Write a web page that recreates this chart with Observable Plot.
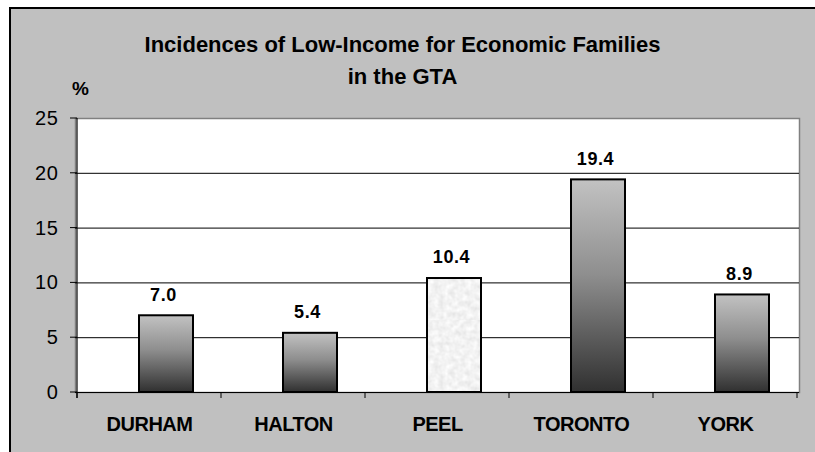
<!DOCTYPE html>
<html>
<head>
<meta charset="utf-8">
<script src="https://cdn.jsdelivr.net/npm/d3@7"></script>
<script src="https://cdn.jsdelivr.net/npm/@observablehq/plot@0.6"></script>
<style>
  html, body { margin: 0; padding: 0; background: #fff; }
  #wrap { position: relative; width: 815px; height: 452px; overflow: hidden; font-family: "Liberation Sans", Arial, sans-serif; }
  #frame { position: absolute; left: 9px; top: 7px; right: -4px; bottom: -4px; background: #c0c0c0; border-left: 2px solid #000; border-top: 2px solid #000; }
  #title { position: absolute; left: 0; width: 805px; top: 29px; text-align: center; font-weight: bold; font-size: 22px; line-height: 32px; color: #000; }
  #unit { position: absolute; left: 72px; top: 78px; font-weight: bold; font-size: 19px; color: #000; }
  #chart { position: absolute; left: 0; top: 0; }
  #chart svg [aria-label^="x-axis"] text { font-size: 20px; font-weight: bold; letter-spacing: -0.5px; }
</style>
</head>
<body>
<div id="wrap">
  <div id="frame"></div>
  <div id="chart"></div>
  <div id="title">Incidences of Low-Income for Economic Families<br>in the GTA</div>
  <div id="unit">%</div>
</div>
<script>
const categories = ["DURHAM", "HALTON", "PEEL", "TORONTO", "YORK"];
const values = [7.0, 5.4, 10.4, 19.4, 8.9];
const yDomain = [0, 25];
const yTicks = [0, 5, 10, 15, 20, 25];
const gridValues = [5, 10, 15, 20];
const texturedCategory = "PEEL";

const data = categories.map((c, i) => ({region: c, value: values[i]}));

function extras(index, scales, channels, dimensions) {
  const g = d3.create("svg:g");
  const defs = g.append("defs");
  const grad = defs.append("linearGradient").attr("id", "barGrad")
    .attr("x1", 0).attr("y1", 0).attr("x2", 0).attr("y2", 1);
  grad.append("stop").attr("offset", "0%").attr("stop-color", "#c2c2c2");
  grad.append("stop").attr("offset", "45%").attr("stop-color", "#8e8e8e");
  grad.append("stop").attr("offset", "100%").attr("stop-color", "#303030");
  const filt = defs.append("filter").attr("id", "noise").attr("x", 0).attr("y", 0).attr("width", 1).attr("height", 1);
  filt.append("feTurbulence").attr("type", "fractalNoise").attr("baseFrequency", 0.18).attr("numOctaves", 2).attr("seed", 3);
  filt.append("feColorMatrix").attr("type", "matrix")
    .attr("values", "0.3 0 0 0 0.74  0.3 0 0 0 0.74  0.3 0 0 0 0.74  0 0 0 0 1");
  const pat = defs.append("pattern").attr("id", "peelTex").attr("patternUnits", "userSpaceOnUse")
    .attr("width", 80).attr("height", 80);
  pat.append("rect").attr("width", 80).attr("height", 80).attr("filter", "url(#noise)");

  const x = scales.x, y = scales.y;
  const bw = x.bandwidth ? x.bandwidth() : (dimensions.width - dimensions.marginLeft - dimensions.marginRight) / categories.length;
  const edges = categories.map(c => x(c));
  edges.push(edges[edges.length - 1] + bw);
  const y0 = y(yDomain[0]);
  const yTop = y(yDomain[1]);
  // category boundary ticks
  g.append("g").attr("stroke", "#000").attr("stroke-width", 1)
    .selectAll("line").data(edges).join("line")
    .attr("x1", d => d).attr("x2", d => d).attr("y1", y0).attr("y2", y0 + 6);
  // value axis ticks
  g.append("g").attr("stroke", "#000").attr("stroke-width", 1)
    .selectAll("line").data(yTicks).join("line")
    .attr("x1", edges[0] - 7).attr("x2", edges[0]).attr("y1", d => y(d)).attr("y2", d => y(d));
  // value axis line
  g.append("line").attr("stroke", "#000").attr("stroke-width", 1.2)
    .attr("x1", edges[0]).attr("x2", edges[0]).attr("y1", yTop).attr("y2", y0 + 6);
  return g.node();
}

const plot = Plot.plot({
  width: 815,
  height: 452,
  marginLeft: 75,
  marginRight: 16,
  marginTop: 118,
  marginBottom: 60,
  style: {background: "transparent", fontFamily: "'Liberation Sans', Arial, sans-serif", color: "#000", overflow: "visible"},
  x: {domain: categories, padding: 0, label: null, tickSize: 0, tickPadding: 24},
  y: {domain: yDomain, axis: null},
  marks: [
    Plot.frame({fill: "#fff", stroke: "#808080", strokeWidth: 1.5}),
    Plot.ruleY(gridValues, {stroke: "#000", strokeWidth: 1}),
    extras,
    Plot.text(yTicks, {
      y: d => d, text: d => String(d), frameAnchor: "left", textAnchor: "end",
      dx: -17, fontSize: 20, fill: "#000"
    }),
    Plot.barY(data.filter(d => d.region !== texturedCategory), {
      x: "region", y: "value", fill: "url(#barGrad)", stroke: "#000", strokeWidth: 2,
      insetLeft: 62, insetRight: 28
    }),
    Plot.barY(data.filter(d => d.region === texturedCategory), {
      x: "region", y: "value", fill: "url(#peelTex)", stroke: "#000", strokeWidth: 2,
      insetLeft: 62, insetRight: 28
    }),
    Plot.ruleY([yDomain[0]], {stroke: "#000", strokeWidth: 1.2}),
    Plot.text(data, {
      x: "region", y: "value", text: d => d.value.toFixed(1),
      dx: 14, dy: -21, fontSize: 18, fontWeight: "bold", fill: "#000"
    })
  ]
});
d3.select(plot).selectAll('[aria-label="text"] text').style("letter-spacing", "0.6px");
document.getElementById("chart").appendChild(plot);
</script>
</body>
</html>
